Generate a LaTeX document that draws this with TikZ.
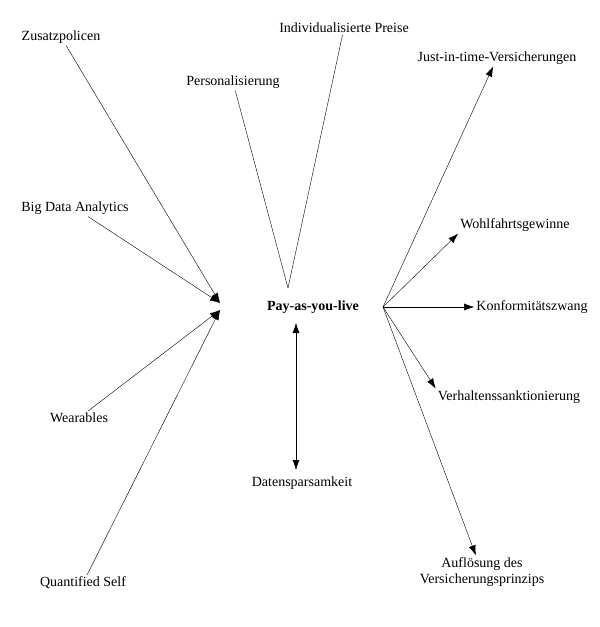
\documentclass[tikz,border=0pt]{standalone}
\usepackage{fontspec}
\setmainfont{Liberation Serif}
\usetikzlibrary{arrows.meta}
\begin{document}
\begin{tikzpicture}[x=1pt,y=-1pt]
        \tikzset{term/.style={font=\fontsize{14}{16}\selectfont, inner sep=2pt, align=center},
                 arrow/.style={-{Latex[length=10pt,width=7pt]}}}

        \useasboundingbox (0,0) rectangle (600,627);

        \node (zusatz) [term] at (61,37) {Zusatzpolicen};
        \node (preise) [term] at (344,28) {Individualisierte Preise};
        \node (perso) [term] at (233,82) {Personalisierung};
        \node (jit) [term] at (497,58) {Just-in-time-Versicherungen};
        \node (bigdata) [term] at (75,208) {Big Data Analytics};
        \node (wohl) [term] at (515,225) {Wohlfahrtsgewinne};
        \node (payl) [term, font=\fontsize{14}{16}\selectfont\bfseries] at (313,307) {Pay-as-you-live};
        \node (konf) [term] at (532,307) {Konformitätszwang};
        \node (wear) [term] at (79,418) {Wearables};
        \node (verh) [term] at (509,397) {Verhaltenssanktionierung};
        \node (daten) [term] at (302,483) {Datensparsamkeit};
        \node (quant) [term] at (83,583) {Quantified Self};
        \node (aufl) [term] at (482,572) {Auflösung des\\Versicherungsprinzips};

        \coordinate (in1) at (220,303);
        \coordinate (in2) at (220,310);
        \coordinate (top) at (288,288);
        \coordinate (out) at (383,307);
        \coordinate (up) at (296,323);
        \coordinate (down) at (296,470);

        % left side into the centre
        \draw [arrow] (zusatz) -- (in1);
        \draw [arrow] (bigdata) -- (in1);
        \draw [arrow] (wear) -- (in2);
        \draw [arrow] (quant) -- (in2);

        % top
        \draw (perso) -- (top);
        \draw (preise) -- (top);

        % right side out of the centre
        \draw [arrow] (out) -- (jit);
        \draw [arrow] (out) -- (wohl.south west);
        \draw [arrow] (out) -- (konf);
        \draw [arrow] (out) -- (verh.north west);
        \draw [arrow] (out) -- (aufl);

        \draw [{Latex[length=10pt,width=7pt]}-{Latex[length=10pt,width=7pt]}] (up) -- (down);
    \end{tikzpicture}
\end{document}
